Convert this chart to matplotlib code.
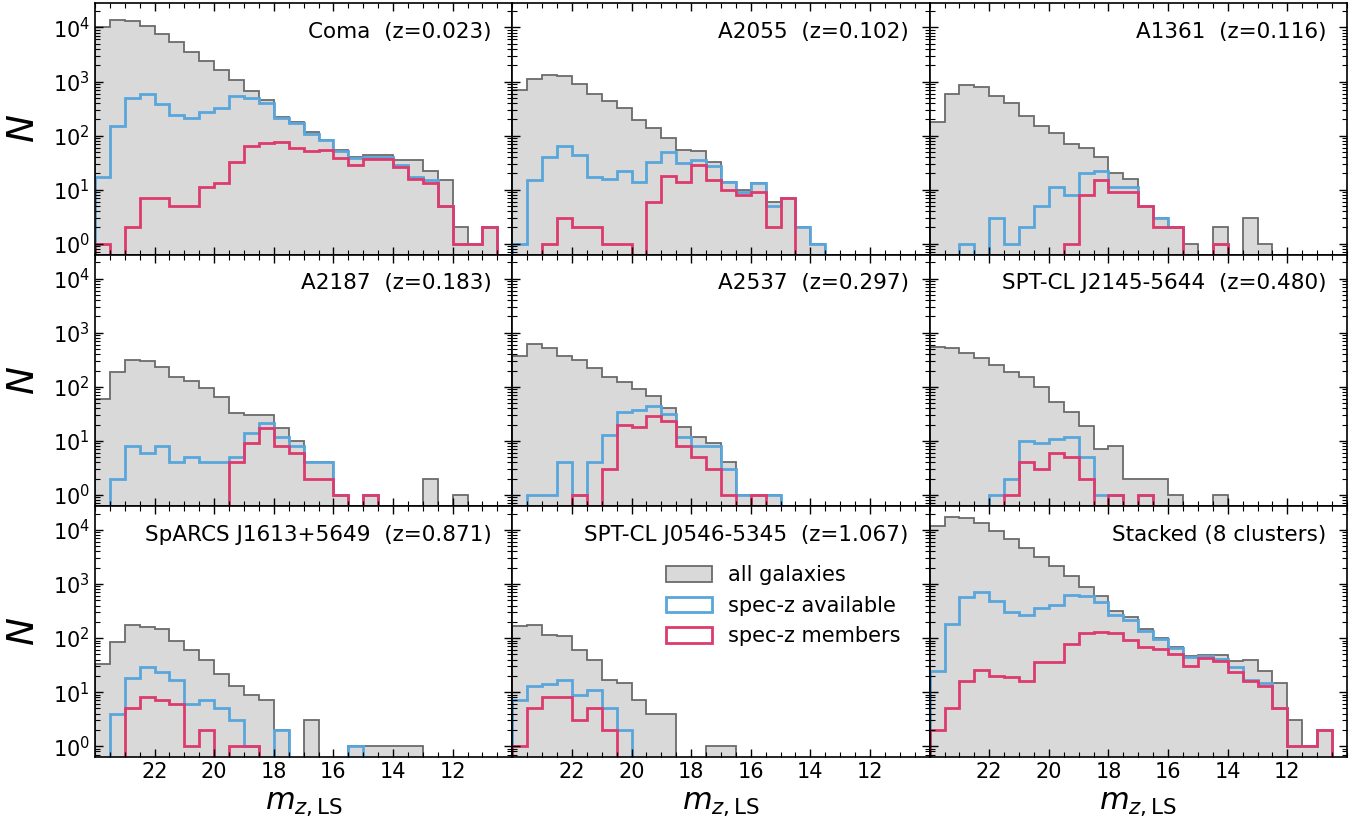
import numpy as np
import matplotlib
matplotlib.use("Agg")
import matplotlib.pyplot as plt
from matplotlib.patches import Patch
from matplotlib.ticker import MultipleLocator

# magnitude bins, 0.5 mag wide
bin_edges = np.arange(10.5, 24.01, 0.5)

names = ["Coma  (z=0.023)", "A2055  (z=0.102)", "A1361  (z=0.116)",
         "A2187  (z=0.183)", "A2537  (z=0.297)", "SPT-CL J2145-5644  (z=0.480)",
         "SpARCS J1613+5649  (z=0.871)", "SPT-CL J0546-5345  (z=1.067)",
         "Stacked (8 clusters)"]

# counts per bin, from m=24 (faint) to m=10.5 (bright)
all_gal = [
    [10000, 13700, 13300, 10600, 7530, 5350, 3540, 2380, 1620, 1060, 671, 464, 222, 177,
     117, 84, 53, 40, 43, 43, 36, 36, 22, 15, 2, 1, 2],
    [692, 1137, 1330, 1240, 893, 591, 445, 325, 198, 139, 92, 55, 52, 33,
     14, 10, 13, 6, 7, 2, 1, 0, 0, 0, 0, 0, 0],
    [177, 582, 867, 785, 550, 397, 235, 153, 110, 71, 58, 41, 20, 16,
     5, 3, 2, 1, 0, 2, 0, 3, 1, 0, 0, 0, 0],
    [60, 192, 316, 295, 235, 155, 129, 97, 66, 33, 30, 30, 17, 10,
     4, 4, 1, 0, 1, 0, 0, 0, 2, 0, 1, 0, 0],
    [375, 608, 513, 375, 316, 225, 149, 124, 91, 69, 40, 18, 12, 9,
     4, 1, 1, 1, 0, 0, 0, 0, 0, 0, 0, 0, 0],
    [543, 527, 414, 344, 248, 184, 151, 101, 53, 34, 19, 7, 8, 2,
     2, 2, 1, 0, 0, 1, 0, 0, 0, 0, 0, 0, 0],
    [33, 83, 177, 162, 145, 87, 59, 39, 22, 13, 9, 7, 2, 0,
     3, 0, 0, 1, 1, 1, 1, 1, 0, 0, 0, 0, 0],
    [167, 172, 115, 110, 60, 40, 17, 15, 7, 4, 4, 0, 0, 1,
     1, 0, 0, 0, 0, 0, 0, 0, 0, 0, 0, 0, 0],
    [11900, 17200, 16700, 13700, 9720, 6920, 4710, 3160, 2120, 1390, 893, 608, 321, 245,
     145, 100, 67, 46, 48, 48, 38, 40, 25, 15, 3, 1, 2],
]

spec_avail = [
    [17, 153, 499, 600, 392, 245, 215, 270, 325, 535, 506, 403, 212, 172,
     109, 82, 51, 38, 41, 40, 28, 17, 15, 5, 1, 1, 2],
    [1, 15, 40, 63, 44, 17, 16, 22, 14, 33, 50, 31, 35, 27,
     14, 9, 13, 5, 7, 2, 1, 0, 0, 0, 0, 0, 0],
    [0, 0, 1, 0, 3, 1, 2, 5, 11, 8, 20, 22, 11, 11,
     5, 3, 2, 0, 0, 1, 0, 0, 0, 0, 0, 0, 0],
    [0, 2, 8, 6, 8, 4, 5, 4, 4, 5, 14, 21, 12, 8,
     4, 4, 1, 0, 1, 0, 0, 0, 0, 0, 0, 0, 0],
    [0, 1, 1, 4, 1, 4, 13, 34, 37, 45, 32, 12, 8, 8,
     3, 1, 1, 1, 0, 0, 0, 0, 0, 0, 0, 0, 0],
    [0, 0, 0, 0, 1, 2, 10, 9, 11, 12, 5, 1, 1, 0,
     1, 0, 0, 0, 0, 0, 0, 0, 0, 0, 0, 0, 0],
    [0, 4, 18, 29, 24, 17, 6, 7, 5, 3, 1, 0, 2, 0,
     0, 0, 0, 1, 0, 0, 0, 0, 0, 0, 0, 0, 0],
    [7, 13, 14, 17, 9, 11, 5, 2, 0, 0, 0, 0, 0, 0,
     0, 0, 0, 0, 0, 0, 0, 0, 0, 0, 0, 0, 0],
    [25, 184, 582, 711, 478, 303, 263, 354, 408, 634, 612, 464, 267, 212,
     135, 97, 66, 44, 47, 41, 29, 17, 15, 5, 1, 1, 2],
]

spec_members = [
    [1, 0, 2, 7, 7, 5, 5, 11, 13, 33, 63, 73, 75, 60,
     51, 55, 39, 29, 37, 37, 26, 16, 13, 5, 1, 1, 2],
    [0, 0, 1, 3, 2, 2, 1, 1, 0, 6, 18, 14, 29, 15,
     10, 8, 9, 2, 7, 0, 0, 0, 0, 0, 0, 0, 0],
    [0, 0, 0, 0, 0, 0, 0, 0, 0, 1, 8, 15, 9, 9,
     5, 2, 2, 0, 0, 1, 0, 0, 0, 0, 0, 0, 0],
    [0, 0, 0, 0, 0, 0, 0, 0, 0, 4, 9, 17, 8, 6,
     2, 2, 1, 0, 1, 0, 0, 0, 0, 0, 0, 0, 0],
    [0, 0, 0, 0, 1, 0, 3, 20, 18, 29, 23, 8, 5, 3,
     1, 0, 1, 0, 0, 0, 0, 0, 0, 0, 0, 0, 0],
    [0, 0, 0, 0, 0, 1, 4, 3, 6, 5, 2, 0, 1, 0,
     1, 0, 0, 0, 0, 0, 0, 0, 0, 0, 0, 0, 0],
    [0, 0, 5, 8, 7, 6, 1, 2, 0, 1, 1, 0, 0, 0,
     0, 0, 0, 0, 0, 0, 0, 0, 0, 0, 0, 0, 0],
    [1, 5, 8, 8, 3, 5, 2, 0, 0, 0, 0, 0, 0, 0,
     0, 0, 0, 0, 0, 0, 0, 0, 0, 0, 0, 0, 0],
    [2, 5, 16, 26, 20, 19, 16, 36, 36, 79, 124, 129, 124, 92,
     69, 64, 50, 31, 43, 37, 24, 16, 13, 5, 1, 1, 2],
]

xticks = [22, 20, 18, 16, 14, 12]

grey_fill, grey_edge = '#d9d9d9', '#6b6b6b'
blue, pink = '#58a6db', '#dc3b6d'


def main():
    fig, axes = plt.subplots(3, 3, figsize=(13.64, 8.24), dpi=100,
                             sharex=True, sharey=True)
    fig.subplots_adjust(left=0.0696, right=0.9875, top=0.996, bottom=0.0813,
                        hspace=0, wspace=0)

    for i, ax in enumerate(axes.flat):
        ax.set_yscale('log')
        ax.stairs(np.array(all_gal[i])[::-1], bin_edges, baseline=0, fill=True,
                  facecolor=grey_fill, edgecolor=grey_edge, linewidth=1.3)
        ax.stairs(np.array(spec_avail[i])[::-1], bin_edges, baseline=0,
                  color=blue, linewidth=2.0)
        ax.stairs(np.array(spec_members[i])[::-1], bin_edges, baseline=0,
                  color=pink, linewidth=2.0)

        ax.text(0.95, 0.885, names[i], transform=ax.transAxes,
                ha='right', va='center', fontsize=15.5)

        ax.set_xlim(24, 10)
        ax.set_ylim(0.63, 2.8e4)
        ax.set_xticks(xticks)
        ax.xaxis.set_minor_locator(MultipleLocator(0.5))
        ax.tick_params(which='both', direction='in', top=True, right=True,
                       labelsize=15)
        ax.tick_params(which='major', length=6, width=1.0)
        ax.tick_params(which='minor', length=3.5, width=0.8)
        for sp in ax.spines.values():
            sp.set_linewidth(1.2)

        if i % 3 == 0:
            ax.set_ylabel('$N$', fontsize=27, labelpad=8)
        if i >= 6:
            ax.set_xlabel(r'$m_{z,\mathrm{LS}}$', fontsize=22, labelpad=5)

    handles = [
        Patch(facecolor=grey_fill, edgecolor=grey_edge, linewidth=1.3,
              label='all galaxies'),
        Patch(facecolor='white', edgecolor=blue, linewidth=2.0,
              label='spec-z available'),
        Patch(facecolor='white', edgecolor=pink, linewidth=2.0,
              label='spec-z members'),
    ]
    axes[2, 1].legend(handles=handles, loc='center left',
                      bbox_to_anchor=(0.368, 0.602), frameon=False,
                      fontsize=15, borderpad=0, borderaxespad=0,
                      handlelength=2.2, handleheight=0.75,
                      handletextpad=0.8, labelspacing=0.5)

    fig.savefig('out.png', dpi=100)


if __name__ == '__main__':
    main()
